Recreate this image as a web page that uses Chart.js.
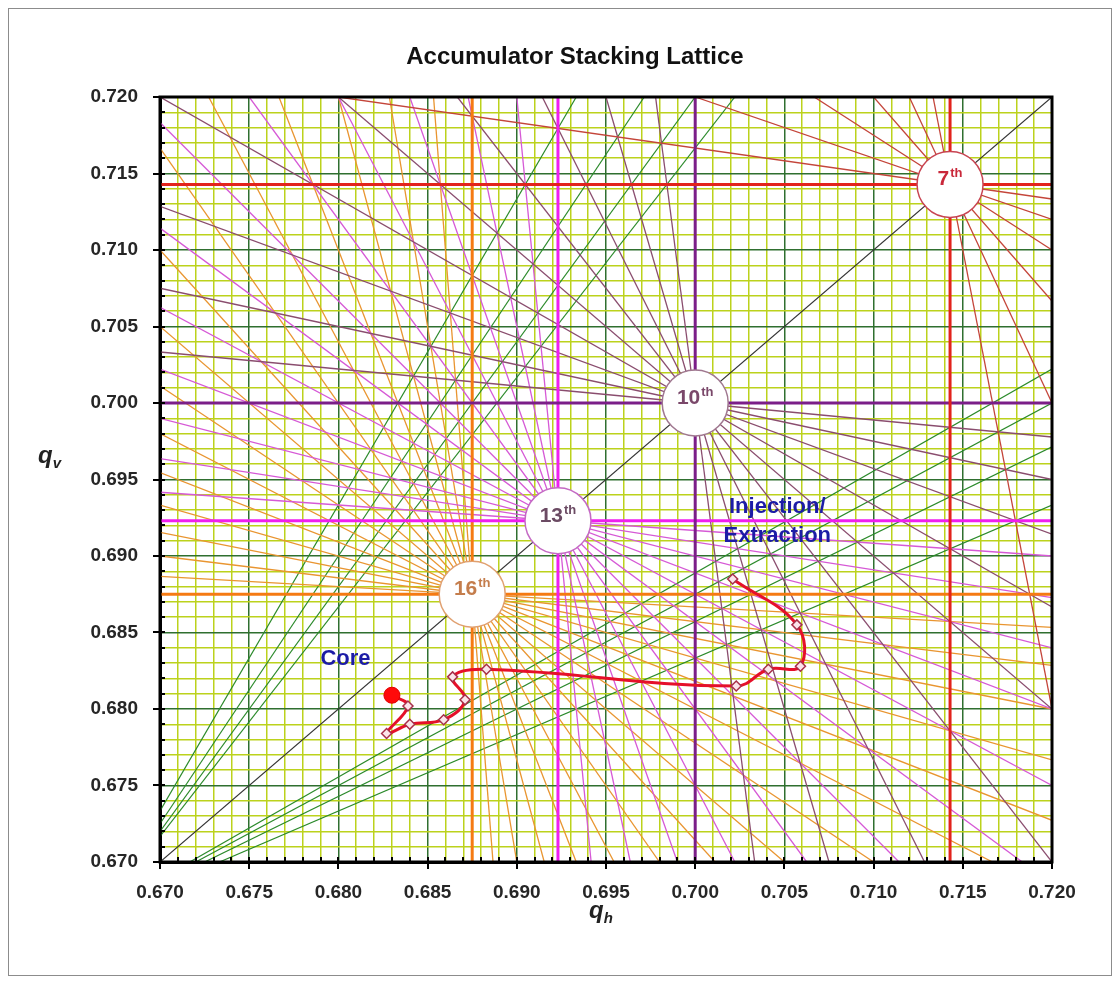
<!DOCTYPE html>
<html>
<head>
<meta charset="utf-8">
<title>Accumulator Stacking Lattice</title>
<script src="https://cdn.jsdelivr.net/npm/chart.js"></script>
<style>
  html, body { margin: 0; padding: 0; background: #ffffff; }
  #frame { position: absolute; left: 8px; top: 8px; width: 1104px; height: 968px; border: 1px solid #8c8c8c; box-sizing: border-box; }
  #wrap { position: absolute; left: 0; top: 0; width: 1120px; height: 983px; }
</style>
</head>
<body>
<div id="frame"></div>
<div id="wrap"><canvas id="lattice" width="1120" height="983"></canvas></div>
<script>
// ---- axis range and tick labels ----
const axisMin = 0.670;
const axisMax = 0.720;
const tickLabels = ['0.670', '0.675', '0.680', '0.685', '0.690', '0.695',
                    '0.700', '0.705', '0.710', '0.715', '0.720'];

// ---- stacking nodes on the diagonal: tune = numerator / order ----
const nodeOrders = [7, 10, 13, 16];
const nodeNumerators = [5, 7, 9, 11];
const nodeNames = ['7', '10', '13', '16'];

// ---- resonance lines m*qh + n*qv = p through each node ----
const order7Pairs = [[0, 7], [1, 6], [2, 5], [3, 4], [4, 3], [5, 2], [6, 1], [7, 0]];
const order10Pairs = [[0, 10], [1, 9], [2, 8], [3, 7], [4, 6], [5, 5], [6, 4], [7, 3], [8, 2], [9, 1], [10, 0]];
const order13Pairs = [[0, 13], [1, 12], [2, 11], [3, 10], [4, 9], [5, 8], [6, 7], [7, 6], [8, 5], [9, 4], [10, 3], [11, 2], [12, 1], [13, 0]];
const order16Pairs = [[0, 16], [1, 15], [2, 14], [3, 13], [4, 12], [5, 11], [6, 10], [7, 9], [8, 8], [9, 7], [10, 6], [11, 5], [12, 4], [13, 3], [14, 2], [15, 1], [16, 0]];

// ---- coupling lines m*qh + n*qv = p meeting at the third-order point ----
const couplingLines = [[6, -3, 2], [7, -4, 2], [8, -5, 2], [9, -6, 2],
                       [-3, 6, 2], [-4, 7, 2], [-5, 8, 2], [-6, 9, 2]];
const diagonalLine = [1, -1, 0];

// ---- working point trajectory ----
const pathQh = [0.6830, 0.6839, 0.6827, 0.6840, 0.6859, 0.6871, 0.6864, 0.6883, 0.7023, 0.7041, 0.7059, 0.7057, 0.7021];
const pathQv = [0.6809, 0.6802, 0.6784, 0.6790, 0.6793, 0.6806, 0.6821, 0.6826, 0.6815, 0.6826, 0.6828, 0.6855, 0.6885];

// ---- text annotations ----
const coreLabel = { text: 'Core', qh: 0.6804, qv: 0.6833 };
const injLabel = { lines: ['Injection/', 'Extraction'], qh: 0.7046, qv: [0.6932, 0.6913] };

// ---- styles ----
const orderStyle = {
  7:  { main: '#e2231c', ray: '#c4453a', text: '#c9283a', ring: '#c84452' },
  10: { main: '#7b1e88', ray: '#8a4d6e', text: '#7a486a', ring: '#a07890' },
  13: { main: '#ef1fef', ray: '#d659d6', text: '#6b4a63', ring: '#c46ac4' },
  16: { main: '#f57a12', ray: '#e99530', text: '#c47d4c', ring: '#e0a070' }
};
const FONT = '"Liberation Sans", Arial, Helvetica, sans-serif';

// clip the line m*x + n*y = p to the plotting window
function lineSegment(m, n, p) {
  let x0, y0, x1, y1;
  if (n === 0) { x0 = x1 = p / m; y0 = axisMin; y1 = axisMax; }
  else { x0 = axisMin; x1 = axisMax; y0 = (p - m * axisMin) / n; y1 = (p - m * axisMax) / n; }
  const dx = x1 - x0, dy = y1 - y0;
  let t0 = 0, t1 = 1;
  const checks = [[-dx, x0 - axisMin], [dx, axisMax - x0], [-dy, y0 - axisMin], [dy, axisMax - y0]];
  for (const [pp, q] of checks) {
    if (pp === 0) { if (q < 0) return null; continue; }
    const r = q / pp;
    if (pp < 0) { if (r > t1) return null; if (r > t0) t0 = r; }
    else { if (r < t0) return null; if (r < t1) t1 = r; }
  }
  return [{ x: x0 + t0 * dx, y: y0 + t0 * dy }, { x: x0 + t1 * dx, y: y0 + t1 * dy }];
}

function lineDataset(seg, color, width, order) {
  return { type: 'scatter', data: seg, showLine: true, borderColor: color, borderWidth: width,
           pointRadius: 0, fill: false, order: order };
}

const datasets = [];
const pairsByOrder = { 7: order7Pairs, 10: order10Pairs, 13: order13Pairs, 16: order16Pairs };
nodeOrders.forEach((ord, i) => {
  const p = nodeNumerators[i];
  pairsByOrder[ord].forEach(([m, n]) => {
    const seg = lineSegment(m, n, p);
    if (!seg) return;
    const axial = (m === 0 || n === 0);
    datasets.push(lineDataset(seg, axial ? orderStyle[ord].main : orderStyle[ord].ray, axial ? 3 : 1.3, axial ? 3 : 4));
  });
});
couplingLines.forEach(([m, n, p]) => {
  const seg = lineSegment(m, n, p);
  if (seg) datasets.push(lineDataset(seg, '#2b8a2b', 1.2, 5));
});
{
  const seg = lineSegment(diagonalLine[0], diagonalLine[1], diagonalLine[2]);
  datasets.push(lineDataset(seg, '#333333', 1.2, 5));
}

// node circles
datasets.push({
  type: 'scatter',
  data: nodeOrders.map((o, i) => ({ x: nodeNumerators[i] / o, y: nodeNumerators[i] / o })),
  pointRadius: 33, pointHoverRadius: 33, pointStyle: 'circle',
  pointBackgroundColor: '#ffffff',
  pointBorderColor: nodeOrders.map(o => orderStyle[o].ring),
  pointBorderWidth: 1.5, order: 2
});

// trajectory with diamond markers
datasets.push({
  type: 'scatter',
  data: pathQh.map((q, i) => ({ x: q, y: pathQv[i] })),
  showLine: true, tension: 0.4,
  borderColor: '#e5102a', borderWidth: 3,
  pointStyle: 'rectRot',
  pointRadius: pathQh.map((q, i) => i === 0 ? 0 : 5),
  pointBackgroundColor: '#fbe4ea', pointBorderColor: '#a8304a', pointBorderWidth: 1.5,
  order: 1
});

// starting point
datasets.push({
  type: 'scatter',
  data: [{ x: pathQh[0], y: pathQv[0] }],
  pointRadius: 8, pointStyle: 'circle',
  pointBackgroundColor: '#ff0a0a', pointBorderColor: '#e00000', pointBorderWidth: 1,
  order: 0
});

function isMajor(v) { return Math.round(v * 1000) % 5 === 0; }
function tickText(v) {
  const k = Math.round(v * 1000);
  return (k % 5 === 0) ? tickLabels[(k - 670) / 5] : '';
}

const decor = {
  id: 'decor',
  afterDraw(chart) {
    const ctx = chart.ctx;
    const { left, right, top, bottom } = chart.chartArea;
    const xs = chart.scales.x, ys = chart.scales.y;
    ctx.save();

    // plot frame
    ctx.strokeStyle = '#000';
    ctx.lineWidth = 3;
    ctx.strokeRect(left, top, right - left, bottom - top);

    // tick marks
    ctx.lineWidth = 2;
    ctx.beginPath();
    for (let k = 670; k <= 720; k++) {
      const v = k / 1000;
      const px = Math.round(xs.getPixelForValue(v));
      const py = Math.round(ys.getPixelForValue(v));
      if (k % 5 === 0) {
        ctx.moveTo(px, bottom - 5); ctx.lineTo(px, bottom + 7);
        ctx.moveTo(left - 7, py); ctx.lineTo(left + 5, py);
      } else {
        ctx.moveTo(px, bottom - 5); ctx.lineTo(px, bottom);
        ctx.moveTo(left, py); ctx.lineTo(left + 5, py);
      }
    }
    ctx.stroke();

    // node labels
    nodeOrders.forEach((o, i) => {
      const q = nodeNumerators[i] / o;
      const cx = xs.getPixelForValue(q), cy = ys.getPixelForValue(q);
      ctx.font = 'bold 21px ' + FONT;
      const w1 = ctx.measureText(nodeNames[i]).width;
      ctx.font = 'bold 13px ' + FONT;
      const w2 = ctx.measureText('th').width;
      const x0 = cx - (w1 + w2 + 1) / 2;
      ctx.fillStyle = orderStyle[o].text;
      ctx.textAlign = 'left';
      ctx.textBaseline = 'alphabetic';
      ctx.font = 'bold 21px ' + FONT;
      ctx.fillText(nodeNames[i], x0, cy + 1);
      ctx.font = 'bold 13px ' + FONT;
      ctx.fillText('th', x0 + w1 + 1, cy - 7);
    });

    // annotations
    ctx.fillStyle = '#1c1ca6';
    ctx.textAlign = 'center';
    ctx.textBaseline = 'middle';
    ctx.font = 'bold 22px ' + FONT;
    ctx.fillText(coreLabel.text, xs.getPixelForValue(coreLabel.qh), ys.getPixelForValue(coreLabel.qv));
    injLabel.lines.forEach((t, i) => {
      ctx.fillText(t, xs.getPixelForValue(injLabel.qh), ys.getPixelForValue(injLabel.qv[i]));
    });

    // title
    ctx.fillStyle = '#111';
    ctx.font = 'bold 24px ' + FONT;
    ctx.fillText('Accumulator Stacking Lattice', 575, 57);

    // axis titles
    ctx.textAlign = 'left';
    ctx.textBaseline = 'alphabetic';
    ctx.fillStyle = '#222';
    ctx.font = 'italic bold 24px ' + FONT;
    ctx.fillText('q', 38, 463);
    let wq = ctx.measureText('q').width;
    ctx.font = 'italic bold 15px ' + FONT;
    ctx.fillText('v', 38 + wq, 468);
    ctx.font = 'italic bold 24px ' + FONT;
    ctx.fillText('q', 589, 918);
    ctx.font = 'italic bold 15px ' + FONT;
    ctx.fillText('h', 589 + wq, 923);
    ctx.restore();
  }
};

Chart.defaults.font.family = FONT;

new Chart(document.getElementById('lattice'), {
  type: 'scatter',
  data: { datasets: datasets },
  options: {
    responsive: false,
    animation: false,
    devicePixelRatio: 1,
    events: [],
    layout: { padding: { left: 0, right: 68, top: 97, bottom: 0 } },
    plugins: { legend: { display: false }, tooltip: { enabled: false }, title: { display: false } },
    scales: {
      x: {
        type: 'linear', min: axisMin, max: axisMax,
        afterFit(scale) { scale.height = 121; },
        grid: {
          color: c => isMajor(c.tick ? c.tick.value : 0) ? '#2f6f2f' : '#bcd21c',
          lineWidth: 1.5, drawTicks: false
        },
        border: { display: true, color: '#000', width: 3 },
        ticks: {
          stepSize: 0.001, autoSkip: false, maxRotation: 0, minRotation: 0,
          padding: 19, color: '#262626',
          font: { size: 19, weight: 'bold' },
          callback: v => tickText(v)
        }
      },
      y: {
        type: 'linear', min: axisMin, max: axisMax,
        afterFit(scale) { scale.width = 160; },
        grid: {
          color: c => isMajor(c.tick ? c.tick.value : 0) ? '#2f6f2f' : '#bcd21c',
          lineWidth: 1.5, drawTicks: false
        },
        border: { display: true, color: '#000', width: 3 },
        ticks: {
          stepSize: 0.001, autoSkip: false,
          padding: 22, color: '#262626',
          font: { size: 19, weight: 'bold' },
          callback: v => tickText(v)
        }
      }
    }
  },
  plugins: [decor]
});
</script>
</body>
</html>
